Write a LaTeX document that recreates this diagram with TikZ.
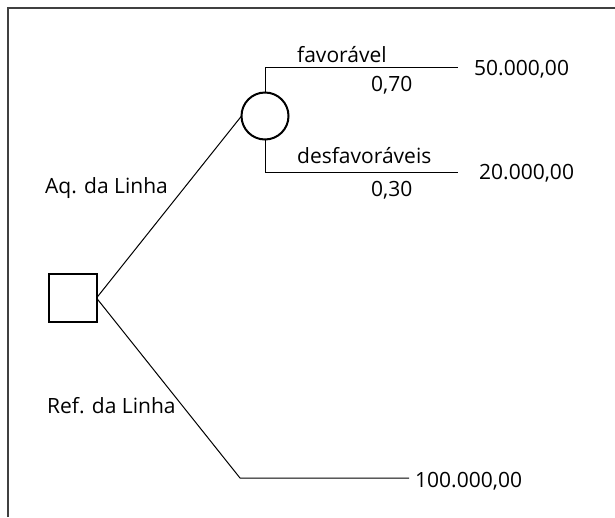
\documentclass[tikz,border=0pt]{standalone}
\usepackage{fontspec}
\setmainfont{Open Sans}
\begin{document}
\begin{tikzpicture}[x=1pt,y=-1pt,
  lbl/.style={anchor=base west,inner sep=0pt,font=\fontsize{21}{25}\selectfont},
  conn/.style={draw=black,line width=1pt},
  decbox/.style={draw=black,line width=2pt,rectangle,minimum size=48pt,inner sep=0pt,outer sep=0pt},
  chance/.style={draw=black,line width=2pt,circle,minimum size=47pt,inner sep=0pt,outer sep=0pt},
  frame/.style={draw=black!75,line width=2pt}]
\useasboundingbox (0,0) rectangle (615,517);
\draw[frame] (7.5,517) -- (7.5,7.5) -- (615,7.5);
\node[decbox] (sq) at (72.5,298) {};
\node[chance] (ci) at (265,116) {};
\coordinate (t1) at (265,67);
\coordinate (t2) at (458,67);
\coordinate (b1) at (265,172);
\coordinate (b2) at (458,172);
\coordinate (r1) at (240,478);
\coordinate (r2) at (409,478);
\draw[conn] (sq.east) -- (ci.west);
\draw[conn] (ci.north) -- (t1) -- (t2);
\draw[conn] (ci.south) -- (b1) -- (b2);
\draw[conn] (sq.east) -- (r1) -- (r2);
\node[lbl] (fav) at (297,62) {favorável};
\node[lbl] (p1) at (371,91) {0,70};
\node[lbl] (v1) at (474,75) {50.000,00};
\node[lbl] (des) at (297,163) {desfavoráveis};
\node[lbl] (p2) at (371,196) {0,30};
\node[lbl] (v2) at (479,179) {20.000,00};
\node[lbl] (aq) at (45,193) {Aq. da Linha};
\node[lbl] (ref) at (47,413) {Ref. da Linha};
\node[lbl] (v3) at (415,487) {100.000,00};
\end{tikzpicture}
\end{document}
